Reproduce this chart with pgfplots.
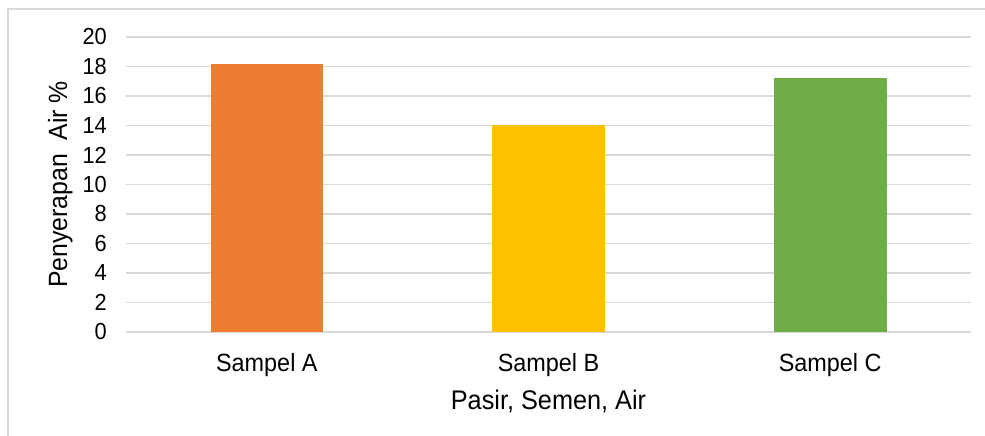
\documentclass[border=0pt]{standalone}
\usepackage{pgfplots}
\pgfplotsset{compat=1.18}
\usepackage{fontspec}
\setmainfont{Liberation Sans}[FakeStretch=0.94]

\definecolor{barA}{HTML}{ED7D31}
\definecolor{barB}{HTML}{FFC000}
\definecolor{barC}{HTML}{70AD47}
\definecolor{gridgray}{HTML}{D9D9D9}

\begin{document}
\begin{tikzpicture}[x=1bp,y=1bp]
\useasboundingbox (0,0) rectangle (985,436);
% chart frame
\draw[gridgray, line width=1.4bp] (8,-10) -- (8,427) -- (995,427);
\begin{axis}[
  at={(126bp,104bp)}, anchor=south west,
  scale only axis, width=845bp, height=295bp,
  xmin=-0.5, xmax=2.5, ymin=0, ymax=20,
  axis line style={draw=none},
  ytick={0,2,...,20},
  xtick={0,1,2},
  xticklabels={Sampel A, Sampel B, Sampel C},
  major tick length=0pt,
  ymajorgrids,
  major grid style={gridgray, line width=1.4bp},
  /pgf/number format/assume math mode=true,
  tick label style={inner sep=0pt},
  yticklabel style={anchor=east, xshift=-19bp, font=\fontsize{23.3}{27}\selectfont},
  xticklabel style={anchor=base, yshift=-40bp, font=\fontsize{25}{29}\selectfont},
  xlabel={Pasir, Semen, Air},
  ylabel={Penyerapan\ \ Air \%},
  xlabel style={at={(axis description cs:0.5,-0.2644)}, anchor=base,
    font=\fontsize{27}{31}\selectfont, inner sep=0pt},
  ylabel style={at={(axis description cs:-0.0698,0.5)}, anchor=base, rotate=0,
    font=\fontsize{26.5}{31}\selectfont, inner sep=0pt},
  ybar, bar width=0.4,
  bar shift=0pt,
]
\addplot[draw=none, fill=barA] coordinates {(0,18.2)};
\addplot[draw=none, fill=barB] coordinates {(1,14.0)};
\addplot[draw=none, fill=barC] coordinates {(2,17.25)};
\end{axis}
\end{tikzpicture}
\end{document}
